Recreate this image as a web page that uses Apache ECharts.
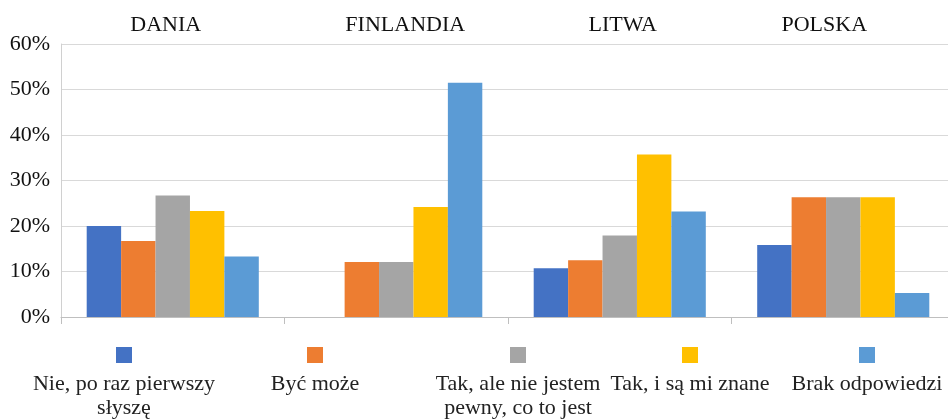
<!DOCTYPE html>
<html>
<head>
<meta charset="utf-8">
<script src="https://cdn.jsdelivr.net/npm/echarts@6/dist/echarts.min.js"></script>
<style>
  html, body { margin: 0; padding: 0; background: #fff; }
  #chart { width: 948px; height: 419px; }
</style>
</head>
<body>
<div id="chart"></div>
<script>
// kraje (kategorie)
const countries = ['DANIA', 'FINLANDIA', 'LITWA', 'POLSKA'];

// odpowiedzi (serie)
const answers = [
  'Nie, po raz pierwszy\nsłyszę',
  'Być może',
  'Tak, ale nie jestem\npewny, co to jest',
  'Tak, i są mi znane',
  'Brak odpowiedzi',
];

// wartości w % dla każdej odpowiedzi (kolejność jak countries)
const nieSlysze = [20.0, 0, 10.7, 15.8];
const bycMoze = [16.7, 12.1, 12.5, 26.3];
const takNiePewny = [26.7, 12.1, 17.9, 26.3];
const takZnane = [23.3, 24.2, 35.7, 26.3];
const brakOdp = [13.3, 51.5, 23.2, 5.3];

const yTicks = [0, 10, 20, 30, 40, 50, 60];

const values = [nieSlysze, bycMoze, takNiePewny, takZnane, brakOdp];
const colors = ['#4472C4', '#ED7D31', '#A5A5A5', '#FFC000', '#5B9BD5'];
const legendX = [124, 315, 518, 690, 867]; // środki kwadracików legendy
const titleShift = [-7, 9, 3, -19]; // przesunięcie nazw krajów nad wykresem
const font = '"Liberation Serif", "Times New Roman", serif';

const chart = echarts.init(document.getElementById('chart'), null, { renderer: 'canvas' });

const series = answers.map((name, i) => ({
  name: name,
  type: 'bar',
  xAxisIndex: 0,
  data: values[i],
  itemStyle: { color: colors[i] },
  barGap: '0%',
  barCategoryGap: '23%',
}));

// każda pozycja legendy osobno: kwadracik nad tekstem
const legends = answers.map((name, i) => ({
  data: [name],
  left: legendX[i] - 105,
  top: 347,
  padding: 0,
  itemWidth: 0,
  itemHeight: 0,
  selectedMode: false,
  formatter: function (n) {
    const lines = n.split('\n').map((l) => '{t|' + l + '}');
    return '{ic| }\n{sp| }\n' + lines.join('\n');
  },
  textStyle: {
    width: 200,
    rich: {
      ic: { width: 16, height: 16, lineHeight: 16, backgroundColor: colors[i], align: 'center' },
      sp: { lineHeight: 9, fontSize: 4, align: 'center' },
      t: { fontSize: 22, lineHeight: 24, fontFamily: font, color: '#222', align: 'center' },
    },
  },
}));

const titleRich = {};
titleShift.forEach((dx, i) => {
  titleRich['c' + i] = {
    fontSize: 22,
    fontFamily: font,
    color: '#111',
    padding: dx >= 0 ? [0, 0, 0, 2 * dx] : [0, -2 * dx, 0, 0],
  };
});

const option = {
  animation: false,
  backgroundColor: '#fff',
  grid: { left: 61, width: 894, top: 44, bottom: 102, outerBoundsMode: 'none' },
  legend: legends,
  xAxis: [
    {
      type: 'category',
      data: countries,
      axisLine: { show: true, lineStyle: { color: '#bfbfbf' } },
      axisTick: { show: true, length: 7, lineStyle: { color: '#bfbfbf' } },
      axisLabel: { show: false },
    },
    {
      type: 'category',
      position: 'top',
      data: countries,
      axisLine: { show: false },
      axisTick: { show: false },
      axisLabel: {
        margin: 8,
        formatter: function (value, idx) {
          return '{c' + idx + '|' + value + '}';
        },
        rich: titleRich,
      },
    },
  ],
  yAxis: {
    type: 'value',
    min: yTicks[0],
    max: yTicks[yTicks.length - 1],
    interval: 10,
    axisLine: { show: true, lineStyle: { color: '#d0d0d0' } },
    axisTick: { show: false },
    axisLabel: {
      fontSize: 22,
      fontFamily: font,
      color: '#111',
      margin: 11,
      formatter: '{value}%',
    },
    splitLine: { show: true, lineStyle: { color: '#d9d9d9' } },
  },
  series: series,
};

chart.setOption(option);
</script>
</body>
</html>
